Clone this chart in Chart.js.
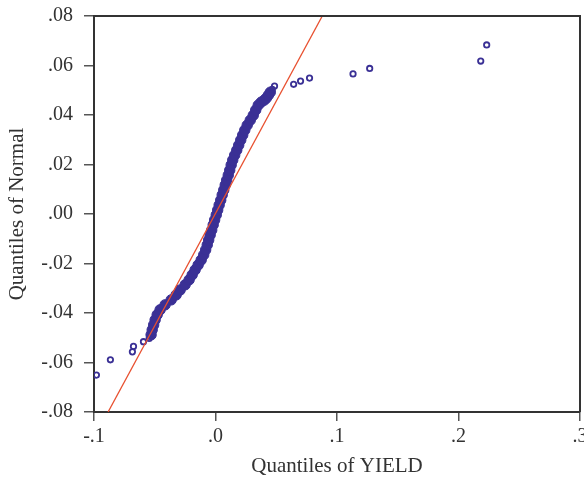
<!DOCTYPE html>
<html><head><meta charset="utf-8">
<script src="https://cdn.jsdelivr.net/npm/chart.js@4.4.1/dist/chart.umd.min.js"></script>
<style>html,body{margin:0;padding:0;background:#fff}</style>
</head><body>
<canvas id="c" width="584" height="481" style="display:block;width:584px;height:481px"></canvas>
<script>
// Dense band of the Q-Q plot (quantiles of YIELD on x, quantiles of Normal on y)
const bandYield = [-0.0530,-0.0521,-0.0509,-0.0497,-0.0480,-0.0456,-0.0415,-0.0365,-0.0324,-0.0291,-0.0250,-0.0217,-0.0192,-0.0168,-0.0143,-0.0118,-0.0097,-0.0081,-0.0068,-0.0056,-0.0044,-0.0031,-0.0019,-0.0007,0.0006,0.0018,0.0030,0.0043,0.0055,0.0068,0.0080,0.0092,0.0105,0.0117,0.0129,0.0142,0.0158,0.0175,0.0191,0.0208,0.0224,0.0241,0.0261,0.0286,0.0311,0.0331,0.0352,0.0376,0.0401,0.0418,0.0435,0.0451];
const bandNormal = [-0.0488,-0.0468,-0.0448,-0.0428,-0.0407,-0.0387,-0.0367,-0.0347,-0.0327,-0.0307,-0.0286,-0.0266,-0.0246,-0.0226,-0.0206,-0.0186,-0.0165,-0.0145,-0.0125,-0.0105,-0.0085,-0.0065,-0.0044,-0.0024,-0.0004,0.0016,0.0036,0.0056,0.0077,0.0097,0.0117,0.0137,0.0157,0.0177,0.0198,0.0218,0.0238,0.0258,0.0278,0.0299,0.0319,0.0339,0.0359,0.0379,0.0399,0.0420,0.0440,0.0452,0.0460,0.0468,0.0480,0.0492];
// Sparse (individually visible) points in the tails
const tailYield = [-0.0980,-0.0865,-0.0684,-0.0675,-0.0593,-0.0546,0.0467,0.0486,0.0643,0.0700,0.0774,0.1132,0.1269,0.2183,0.2232];
const tailNormal = [-0.0651,-0.0589,-0.0557,-0.0535,-0.0516,-0.0503,0.0504,0.0517,0.0524,0.0537,0.0549,0.0566,0.0588,0.0618,0.0683];
// Reference line
const refYield = [-0.0884, 0.0879];
const refNormal = [-0.08, 0.08];
// Axes
const xTicks = [-0.1, 0.0, 0.1, 0.2, 0.3];
const yTicks = [-0.08, -0.06, -0.04, -0.02, 0.00, 0.02, 0.04, 0.06, 0.08];

const pts = (xs, ys) => xs.map((x, i) => ({x: x, y: ys[i]}));
const fmt = (v, d) => {
  const s = (Math.round(v * Math.pow(10, d)) / Math.pow(10, d)).toFixed(d);
  return s.replace(/^(-?)0\./, '$1.');
};
const AX = '#333333';
const BLUE = '#3a3095';
const FONT = 'Liberation Serif, Times New Roman, serif';

const frame = {
  id: 'frame',
  afterDraw(chart) {
    const {ctx, chartArea: a} = chart;
    ctx.save();
    ctx.strokeStyle = AX; ctx.lineWidth = 2;
    ctx.beginPath();
    ctx.moveTo(a.left, a.top); ctx.lineTo(a.right, a.top); ctx.lineTo(a.right, a.bottom);
    ctx.stroke();
    ctx.restore();
  }
};
const noPad = s => { s.paddingLeft = 0; s.paddingRight = 0; s.paddingTop = 0; s.paddingBottom = 0; };

new Chart(document.getElementById('c'), {
  type: 'scatter',
  data: {
    datasets: [
      {type: 'line', data: pts(refYield, refNormal), borderColor: '#e8502f', borderWidth: 1.3, pointRadius: 0, fill: false, order: 0},
      {data: pts(tailYield, tailNormal), pointStyle: 'circle', pointRadius: 2.7, borderWidth: 1.8, borderColor: BLUE, backgroundColor: 'rgba(0,0,0,0)', order: 1},
      {data: pts(bandYield, bandNormal), pointStyle: 'circle', pointRadius: 5.2, borderWidth: 1, borderColor: BLUE, backgroundColor: BLUE, order: 2}
    ]
  },
  options: {
    responsive: false,
    animation: false,
    devicePixelRatio: 1,
    layout: {padding: {top: 16, right: 4, left: 0, bottom: 0}, autoPadding: false},
    plugins: {legend: {display: false}, tooltip: {enabled: false}},
    scales: {
      x: {
        type: 'linear', min: -0.1, max: 0.3,
        afterFit: s => { s.height = 69; noPad(s); },
        afterBuildTicks: s => { s.ticks = xTicks.map(v => ({value: v})); },
        ticks: {callback: v => fmt(v, 1), font: {family: FONT, size: 20}, color: AX, padding: 4, maxRotation: 0, autoSkip: false},
        grid: {display: true, drawOnChartArea: false, drawTicks: true, tickLength: 9, color: '#555', lineWidth: 1.5},
        border: {display: true, color: AX, width: 2},
        title: {display: true, text: 'Quantiles of YIELD', font: {family: FONT, size: 21}, color: AX, padding: {top: 0, bottom: 2}}
      },
      y: {
        type: 'linear', min: -0.08, max: 0.08,
        afterFit: s => { s.width = 94; noPad(s); },
        afterBuildTicks: s => { s.ticks = yTicks.map(v => ({value: v})); },
        ticks: {callback: v => fmt(v, 2), font: {family: FONT, size: 20}, color: AX, padding: 11, autoSkip: false},
        grid: {display: true, drawOnChartArea: false, drawTicks: true, tickLength: 10, color: '#555', lineWidth: 1.5},
        border: {display: true, color: AX, width: 2},
        title: {display: true, text: 'Quantiles of Normal', font: {family: FONT, size: 21}, color: AX, padding: {top: 5, bottom: 0}}
      }
    }
  },
  plugins: [frame]
});
</script>
</body></html>
